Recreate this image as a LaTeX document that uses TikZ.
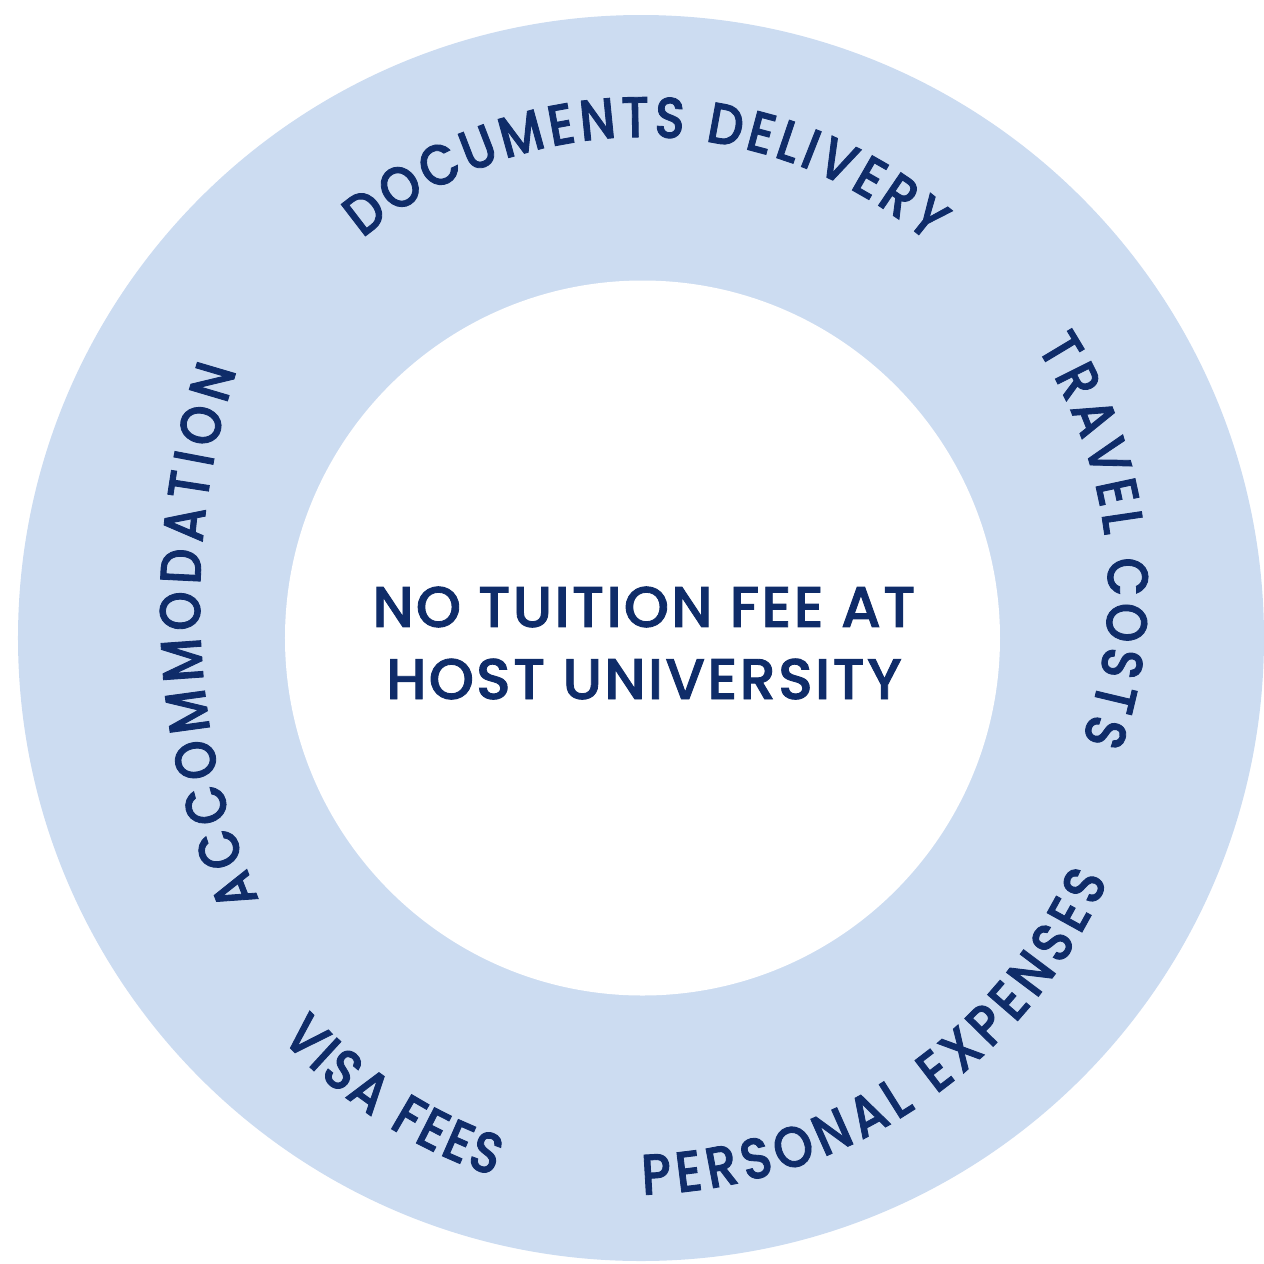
\documentclass[tikz,border=0pt]{standalone}
\usepackage{fontspec}
\usepackage{xcolor}
\usetikzlibrary{decorations.text}
\newfontfamily\labelfont{Poppins Medium}[LetterSpace=4, FakeBold=1.5]
\newfontfamily\curvefont{Poppins Medium}[FakeBold=1.5, FakeStretch=0.87]
\definecolor{ringblue}{HTML}{CCDCF1}
\definecolor{navy}{HTML}{0F2C69}
\newcommand{\OuterR}{6.23}
\newcommand{\InnerR}{3.575}
\newcommand{\arcfont}{\curvefont\fontsize{16.3}{18}\selectfont}

\tikzset{
  ringtext/.style={decorate,
    decoration={text along path, text align={fit to path}, text color=navy, text={|\arcfont|#1}}},
}

\begin{document}
\begin{tikzpicture}
\useasboundingbox (-6.41,-6.25) rectangle (6.23,6.38);
\coordinate (O) at (0,0);
\coordinate (I) at (0.015,0);
\coordinate (DC) at (0.02,0.63);% centre of the top label
\coordinate (TC) at (0.19,0.48);% right label
\coordinate (PC) at (-0.14,-0.32);% lower right label
\coordinate (VC) at (0.12,-0.60);% lower left label
\coordinate (AC) at (3.27,0.33);% left label

\fill[ringblue] (O) circle (\OuterR);% ring
\fill[white] (I) circle (\InnerR);% hole

\path[ringtext={DOCUMENTS DELIVERY}] ([shift={(129.8:4.38)}]DC) arc[start angle=129.8, end angle=49.4, radius=4.38];
\path[ringtext={TRAVEL COSTS}] ([shift={(32.8:4.48)}]TC) arc[start angle=32.8, end angle=-19.7, radius=4.48];
\path[ringtext={PERSONAL EXPENSES}] ([shift={(-88.3:5.25)}]PC) arc[start angle=-88.3, end angle=-23.6, radius=5.25];
\path[ringtext={VISA FEES}] ([shift={(-137.6:5.04)}]VC) arc[start angle=-137.6, end angle=-108.4, radius=5.04];
\path[ringtext={ACCOMMODATION}] ([shift={(202.6:7.68)}]AC) arc[start angle=202.6, end angle=162.2, radius=7.68];

\node[navy, font=\labelfont\fontsize{16.3}{20.5}\selectfont, align=center] (fee) at (0.03,-0.05) {NO TUITION FEE AT\\HOST UNIVERSITY};
\end{tikzpicture}
\end{document}
